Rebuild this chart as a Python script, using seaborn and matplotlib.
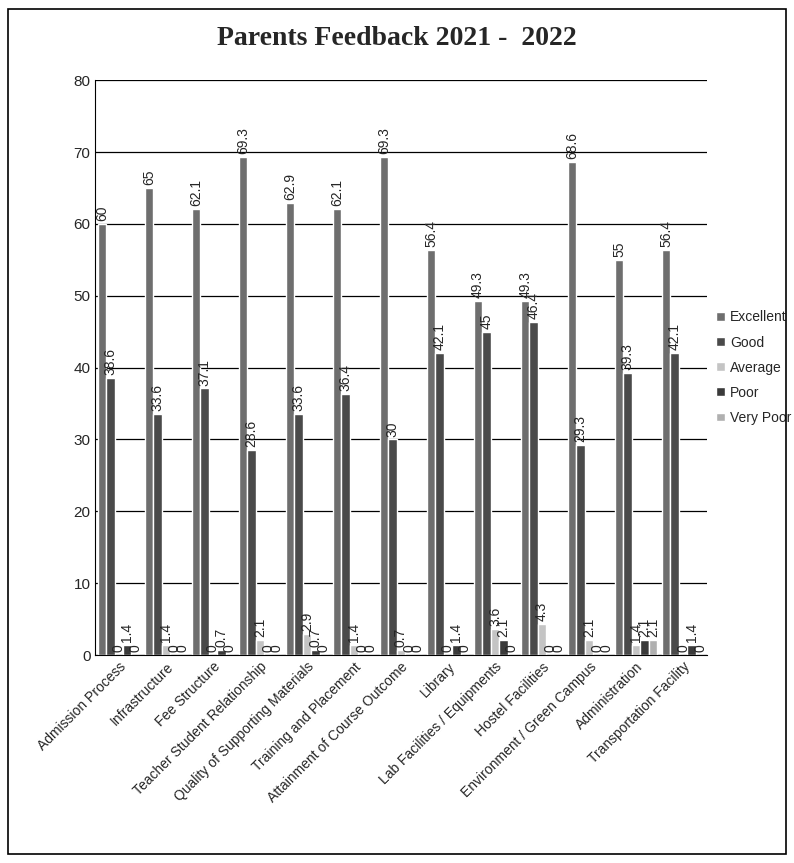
import pandas as pd
import numpy as np
import matplotlib.pyplot as plt
import seaborn as sns
from matplotlib.patches import Rectangle

# Data
categories = ['Admission Process', 'Infrastructure', 'Fee Structure',
              'Teacher Student Relationship', 'Quality of Supporting Materials',
              'Training and Placement', 'Attainment of Course Outcome', 'Library',
              'Lab Facilities / Equipments', 'Hostel Facilities',
              'Environment / Green Campus', 'Administration', 'Transportation Facility']
excellent = [60, 65, 62.1, 69.3, 62.9, 62.1, 69.3, 56.4, 49.3, 49.3, 68.6, 55, 56.4]
good = [38.6, 33.6, 37.1, 28.6, 33.6, 36.4, 30, 42.1, 45, 46.4, 29.3, 39.3, 42.1]
average = [0, 1.4, 0, 2.1, 2.9, 1.4, 0.7, 0, 3.6, 4.3, 2.1, 1.4, 0]
poor = [1.4, 0, 0.7, 0, 0.7, 0, 0, 1.4, 2.1, 0, 0, 2.1, 1.4]
very_poor = [0, 0, 0, 0, 0, 0, 0, 0, 0, 0, 0, 2.1, 0]

series = ['Excellent', 'Good', 'Average', 'Poor', 'Very Poor']
colors = ['#6e6e6e', '#4a4a4a', '#c4c4c4', '#3a3a3a', '#b0b0b0']

df = pd.DataFrame({'Category': categories, 'Excellent': excellent, 'Good': good,
                   'Average': average, 'Poor': poor, 'Very Poor': very_poor})
long_df = df.melt(id_vars='Category', var_name='Rating', value_name='Value')

sns.set_style('white')
plt.rcParams['font.family'] = ['Liberation Sans', 'DejaVu Sans']

fig = plt.figure(figsize=(7.94, 8.63), dpi=100)
ax = fig.add_axes([0.12, 0.241, 0.77, 0.666])

sns.barplot(data=long_df, x='Category', y='Value', hue='Rating', hue_order=series,
            palette=colors, width=0.9, ax=ax, legend=True)

for cont in ax.containers:
    ax.bar_label(cont, fmt='%g', rotation=90, padding=2, fontsize=10)

ax.set_ylim(0, 80)
ax.set_yticks(np.arange(0, 81, 10))
ax.set_xlim(-0.5, len(categories) - 0.5)
ax.yaxis.grid(True, color='black', linewidth=0.9)
ax.set_axisbelow(True)
ax.set_xlabel('')
ax.set_ylabel('')
ax.tick_params(axis='y', labelsize=11, length=0)
ax.set_xticks(range(len(categories)))
ax.set_xticklabels(categories, rotation=45, ha='right', rotation_mode='anchor', fontsize=10)
ax.tick_params(axis='x', length=0)
for s in ['top', 'right']:
    ax.spines[s].set_visible(False)
ax.spines['left'].set_color('black')
ax.spines['bottom'].set_color('black')

ax.legend(loc='center left', bbox_to_anchor=(1.0, 0.5), frameon=False,
          fontsize=10, handlelength=0.6, handleheight=0.6, handletextpad=0.4,
          labelspacing=0.8, borderaxespad=0.3)

fig.text(0.5, 0.955, 'Parents Feedback 2021 -  2022', ha='center', va='center',
         fontsize=20, fontweight='bold', family='Liberation Serif')

fig.patches.append(Rectangle((0.01, 0.01), 0.98, 0.98, transform=fig.transFigure,
                             fill=False, edgecolor='black', linewidth=1.2))

fig.savefig('out.png', dpi=100)
